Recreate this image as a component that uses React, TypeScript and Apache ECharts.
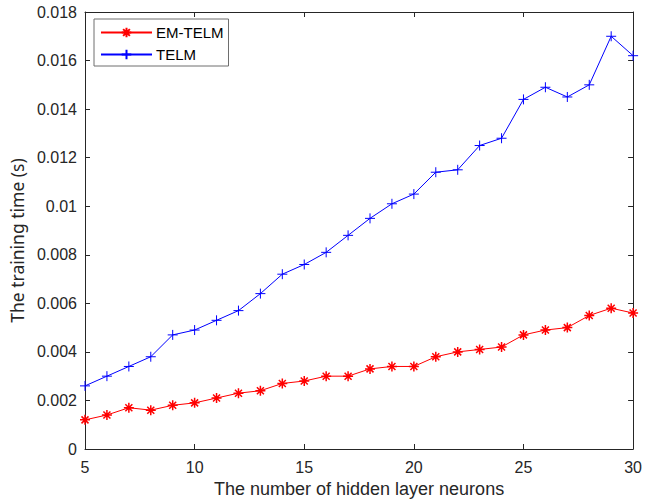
import { useEffect, useRef } from "react";
import * as echarts from "echarts";

const neurons = [5, 6, 7, 8, 9, 10, 11, 12, 13, 14, 15, 16, 17, 18, 19, 20, 21, 22, 23, 24, 25, 26, 27, 28, 29, 30];
const emTelm = [0.0012, 0.0014, 0.0017, 0.0016, 0.0018, 0.0019, 0.0021, 0.0023, 0.0024, 0.0027, 0.0028, 0.0030, 0.0030, 0.0033, 0.0034, 0.0034, 0.0038, 0.0040, 0.0041, 0.0042, 0.0047, 0.0049, 0.0050, 0.0055, 0.0058, 0.0056];
const telm = [0.0026, 0.0030, 0.0034, 0.0038, 0.0047, 0.0049, 0.0053, 0.0057, 0.0064, 0.0072, 0.0076, 0.0081, 0.0088, 0.0095, 0.0101, 0.0105, 0.0114, 0.0115, 0.0125, 0.0128, 0.0144, 0.0149, 0.0145, 0.0150, 0.0170, 0.0162];

const seriesNames = ["EM-TELM", "TELM"];
const xTitle = "The number of hidden layer neurons";
const yTitle = "The training time (s)";

const PLUS = "path://M0,-1L0,1M-1,0L1,0";
const STAR = "path://M-1,0L1,0M0,-1L0,1M-0.7,-0.7L0.7,0.7M-0.7,0.7L0.7,-0.7";

export default function App() {
  const ref = useRef<HTMLDivElement>(null);
  useEffect(() => {
    document.body.style.margin = "0";
    const chart = echarts.init(ref.current!, null, { renderer: "svg" });
    const axisColor = "#262626";
    const font = "'Liberation Sans', Arial, sans-serif";
    const xBase = {
      type: "value" as const,
      min: 5,
      max: 30,
      interval: 5,
      axisLine: { show: true, onZero: false, lineStyle: { color: axisColor, width: 1 } },
      axisTick: { show: true, inside: true, length: 5, lineStyle: { color: axisColor } },
      splitLine: { show: false },
    };
    const yBase = {
      type: "value" as const,
      min: 0,
      max: 0.018,
      interval: 0.002,
      axisLine: { show: true, onZero: false, lineStyle: { color: axisColor, width: 1 } },
      axisTick: { show: true, inside: true, length: 5, lineStyle: { color: axisColor } },
      splitLine: { show: false },
    };
    const mk = (data: number[]) => neurons.map((x, k) => [x, data[k]]);
    chart.setOption({
      animation: false,
      backgroundColor: "#ffffff",
      grid: { left: 83, right: 9, top: 12, bottom: 55, containLabel: false },
      legend: {
        left: 94,
        top: 19,
        orient: "vertical",
        data: seriesNames,
        itemWidth: 51,
        itemHeight: 12,
        itemGap: 7,
        padding: [6, 5, 4, 6],
        borderColor: "#6e6e6e",
        borderWidth: 1,
        backgroundColor: "#ffffff",
        textStyle: { fontFamily: font, fontSize: 15, color: "#000000", padding: [0, 0, 0, -1] },
      },
      xAxis: [
        {
          ...xBase,
          position: "bottom",
          name: xTitle,
          nameLocation: "middle",
          nameGap: 31,
          nameTextStyle: { fontFamily: font, fontSize: 18, color: axisColor },
          axisLabel: { margin: 10, fontFamily: font, fontSize: 16, color: axisColor },
        },
        { ...xBase, position: "top", axisLabel: { show: false } },
      ],
      yAxis: [
        {
          ...yBase,
          position: "left",
          name: yTitle,
          nameLocation: "middle",
          nameGap: 59,
          nameTextStyle: {
            fontFamily: "'Noto Sans', 'Open Sans', sans-serif",
            fontSize: 17.5,
            color: axisColor,
            padding: [0, 20, 0, 0],
          },
          axisLabel: {
            margin: 8,
            fontFamily: font,
            fontSize: 16,
            color: axisColor,
            formatter: (v: number) => String(+v.toFixed(3)),
          },
        },
        { ...yBase, position: "right", axisLabel: { show: false } },
      ],
      series: [
        {
          name: seriesNames[0],
          type: "line",
          data: mk(emTelm),
          symbol: STAR,
          symbolSize: 10,
          showAllSymbol: true,
          clip: false,
          lineStyle: { color: "#ff0000", width: 1 },
          itemStyle: { color: "#ff0000", borderColor: "#ff0000", borderWidth: 1.5 },
        },
        {
          name: seriesNames[1],
          type: "line",
          data: mk(telm),
          symbol: PLUS,
          symbolSize: 10,
          showAllSymbol: true,
          clip: false,
          lineStyle: { color: "#0000ff", width: 1 },
          itemStyle: { color: "#0000ff", borderColor: "#0000ff", borderWidth: 1 },
        },
      ],
    });
    return () => chart.dispose();
  }, []);
  return <div ref={ref} style={{ width: 645, height: 504 }} />;
}
